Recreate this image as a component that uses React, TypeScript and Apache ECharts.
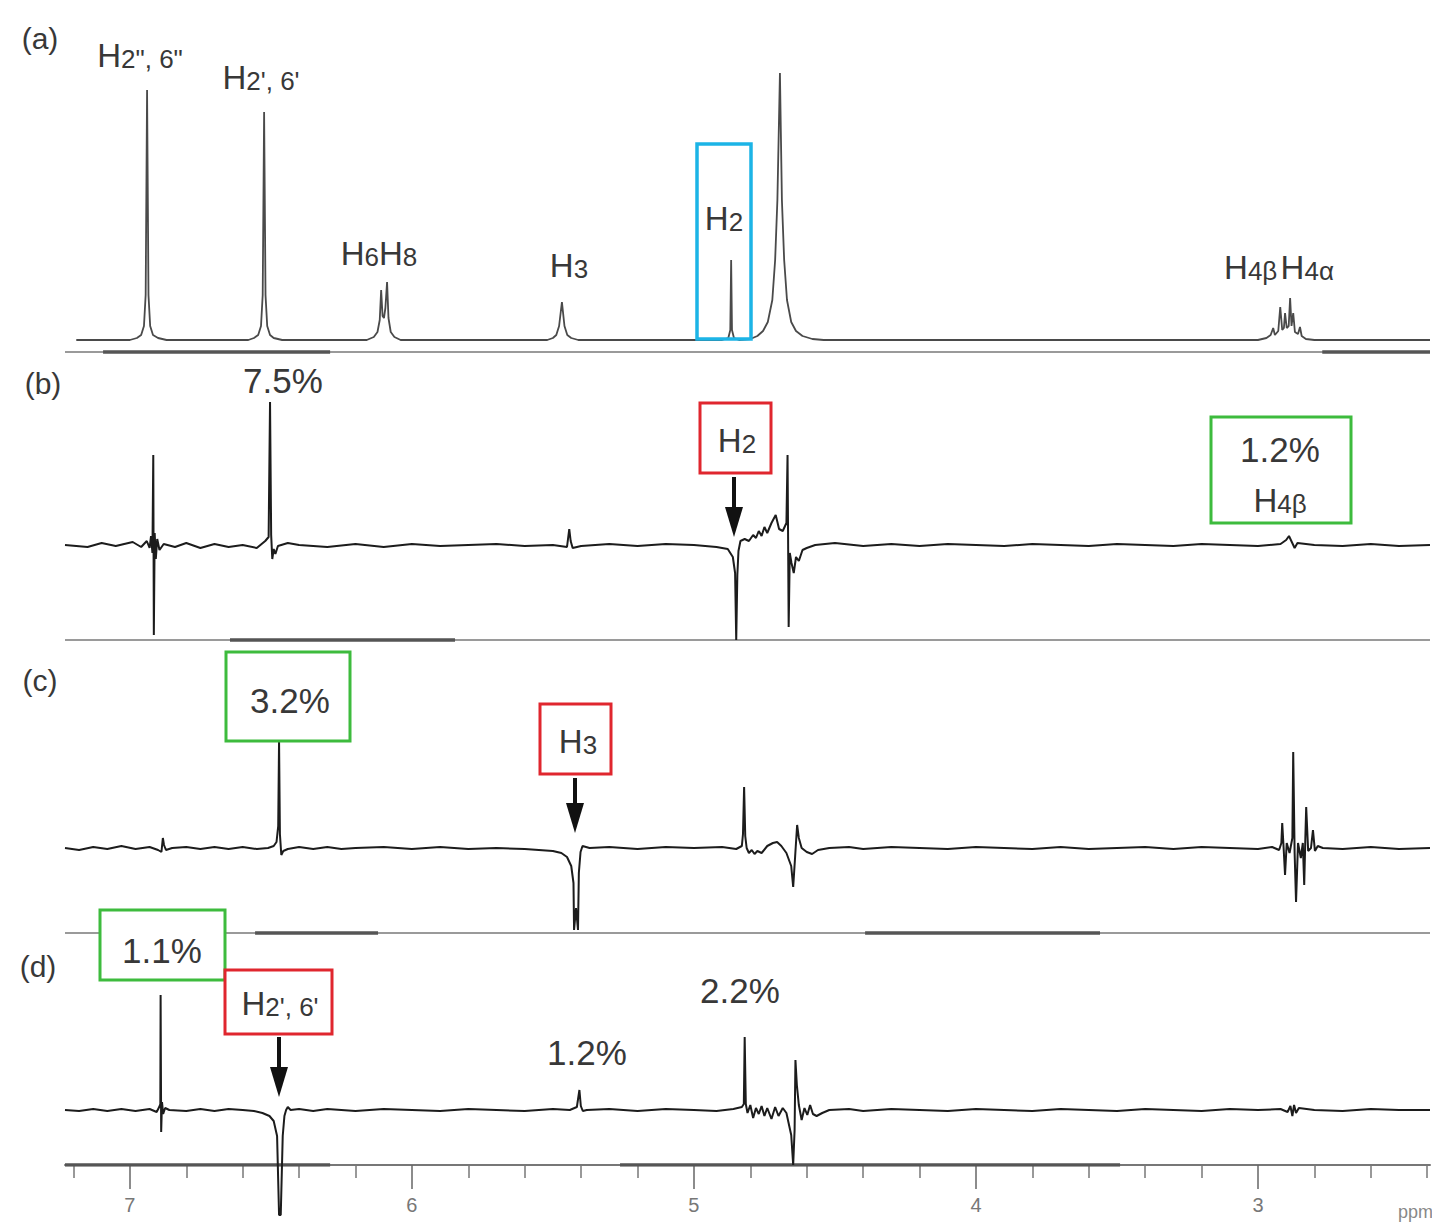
import React, { useEffect, useRef } from "react";
import * as echarts from "echarts";

// ---- data (ppm, intensity above each trace's baseline) ----
const PPM_MIN = 2.39;
const PPM_MAX = 7.23;

const specA: [number, number][] = [
  [7.19, 0], [7.0, 0], [6.975, 2], [6.96, 5], [6.95, 14], [6.944, 45], [6.939, 250], [6.934, 45], [6.928, 14], [6.918, 5], [6.9, 2], [6.87, 0],
  [6.58, 0], [6.56, 2], [6.545, 5], [6.535, 14], [6.529, 45], [6.524, 228], [6.519, 45], [6.513, 14], [6.503, 5], [6.49, 2], [6.46, 0],
  [6.16, 0], [6.135, 3], [6.122, 8], [6.114, 20], [6.109, 50], [6.104, 24], [6.099, 22], [6.094, 32], [6.088, 58], [6.083, 22], [6.075, 8], [6.062, 3], [6.04, 0],
  [5.52, 0], [5.5, 2], [5.488, 5], [5.478, 14], [5.468, 38], [5.459, 14], [5.449, 5], [5.435, 2], [5.41, 0],
  [4.9, 0], [4.878, 2], [4.871, 10], [4.868, 80], [4.865, 10], [4.858, 2], [4.84, 0],
  [4.8, 1], [4.775, 4], [4.755, 9], [4.738, 18], [4.722, 40], [4.712, 80], [4.704, 140], [4.695, 267], [4.688, 140], [4.68, 80], [4.67, 40], [4.655, 18], [4.638, 9], [4.615, 4], [4.58, 1], [4.54, 0],
  [3.0, 0], [2.97, 2], [2.955, 5], [2.946, 12], [2.94, 5], [2.928, 9], [2.921, 33], [2.914, 10], [2.908, 12], [2.904, 27], [2.898, 12], [2.891, 14], [2.886, 42], [2.881, 14], [2.875, 27], [2.869, 8], [2.858, 6], [2.851, 13], [2.845, 4], [2.83, 1], [2.8, 0], [2.39, 0],
];

const specB: [number, number][] = [
  [7.23, 0], [7.15, -2], [7.1, 2], [7.05, -1], [6.99, 3], [6.96, -2], [6.94, 4], [6.93, -3], [6.925, 9], [6.92, -8], [6.917, 90], [6.915, -90], [6.912, 12], [6.908, -14], [6.903, 6], [6.895, -5], [6.88, 1],
  [6.84, -2], [6.8, 2], [6.75, -3], [6.7, 1], [6.65, -2], [6.6, 0], [6.55, -3], [6.52, 4], [6.508, 8], [6.503, 143], [6.499, 10], [6.495, -14], [6.49, -4], [6.484, -9], [6.475, -1],
  [6.44, 2], [6.4, 0], [6.3, -2], [6.2, 1], [6.1, -2], [6.0, 1], [5.9, -1], [5.8, 0], [5.7, 1], [5.6, -1], [5.5, 0], [5.45, -2], [5.442, 16], [5.437, 4], [5.43, -3], [5.4, -1],
  [5.3, 1], [5.2, -1], [5.1, 1], [5.0, 0], [4.92, -2], [4.88, -4], [4.862, -12], [4.854, -28], [4.85, -95], [4.846, -30], [4.842, -6], [4.835, 4], [4.82, 6], [4.805, 4],
  [4.79, 10], [4.78, 7], [4.77, 14], [4.76, 9], [4.75, 18], [4.74, 12], [4.725, 22], [4.71, 30], [4.698, 16], [4.685, 14], [4.672, 22], [4.668, 90], [4.664, -82], [4.66, -8],
  [4.654, -18], [4.646, -28], [4.638, -12], [4.628, -16], [4.615, -5], [4.6, -3], [4.57, 0], [4.5, 2], [4.4, -1], [4.3, 1], [4.2, -1], [4.1, 1], [4.0, 0], [3.9, -1], [3.8, 1],
  [3.7, 0], [3.6, -1], [3.5, 1], [3.4, 0], [3.3, -1], [3.2, 1], [3.1, 0], [3.0, -1], [2.92, 1], [2.9, 5], [2.89, 9], [2.88, 3], [2.87, -3], [2.86, 2], [2.8, 0], [2.7, -1], [2.6, 1], [2.5, -1], [2.39, 0],
];

const specC: [number, number][] = [
  [7.23, 0], [7.18, -2], [7.13, 1], [7.08, -1], [7.03, 2], [6.98, -1], [6.93, 1], [6.9, -2], [6.888, -4], [6.883, 10], [6.879, 3], [6.872, -2], [6.85, 0], [6.8, 1], [6.75, -1],
  [6.7, 1], [6.65, -1], [6.6, 1], [6.55, -1], [6.51, 0], [6.49, 2], [6.48, 6], [6.474, 22], [6.471, 107], [6.468, 14], [6.463, -7], [6.456, -3], [6.44, -1], [6.4, 1], [6.35, -1],
  [6.3, 1], [6.25, -1], [6.2, 0], [6.1, 1], [6.0, -1], [5.9, 1], [5.8, -1], [5.7, 0], [5.6, -1], [5.55, -2], [5.5, -3], [5.47, -5], [5.45, -9], [5.435, -18], [5.427, -35],
  [5.425, -82], [5.418, -60], [5.411, -82], [5.408, -25], [5.402, -4], [5.395, 2], [5.37, 0], [5.3, 1], [5.2, -1], [5.1, 1], [5.0, 0], [4.9, 1], [4.85, -1], [4.83, 2],
  [4.826, 14], [4.822, 61], [4.818, 12], [4.813, 0], [4.805, -5], [4.795, -2], [4.785, -6], [4.775, -3], [4.76, -5], [4.74, 2], [4.72, 5], [4.705, 6], [4.69, 2], [4.672, -5],
  [4.655, -18], [4.648, -39], [4.641, -8], [4.634, 23], [4.628, 10], [4.618, 0], [4.6, -4], [4.581, -6], [4.56, -2], [4.52, 0], [4.45, 1], [4.4, -1], [4.3, 1], [4.2, 0],
  [4.1, -1], [4.0, 1], [3.9, 0], [3.8, -1], [3.7, 1], [3.6, -1], [3.5, 0], [3.4, 1], [3.3, -1], [3.2, 1], [3.1, 0], [3.0, -1], [2.95, 1], [2.925, -2], [2.917, 5], [2.914, 25],
  [2.909, 0], [2.904, -27], [2.898, 5], [2.888, -5], [2.878, 10], [2.875, 96], [2.87, -5], [2.865, -54], [2.858, 5], [2.848, -10], [2.841, 5], [2.836, -37], [2.832, 10],
  [2.829, 41], [2.822, -3], [2.812, 0], [2.805, 18], [2.798, -3], [2.788, 2], [2.77, 0], [2.7, -1], [2.6, 1], [2.5, -1], [2.39, 0],
];

const specD: [number, number][] = [
  [7.23, 0], [7.18, -1], [7.13, 1], [7.08, -1], [7.03, 1], [6.98, -1], [6.93, 1], [6.905, -2], [6.896, 3], [6.892, 6], [6.891, 115], [6.889, -22], [6.886, 8], [6.882, -4],
  [6.875, 2], [6.86, 0], [6.8, -1], [6.75, 1], [6.7, -1], [6.65, 1], [6.6, 0], [6.56, -1], [6.53, -3], [6.505, -6], [6.49, -11], [6.478, -26], [6.471, -105], [6.465, -105],
  [6.458, -26], [6.452, -6], [6.446, 0], [6.44, 3], [6.43, 0], [6.4, 1], [6.35, -1], [6.3, 1], [6.2, -1], [6.1, 1], [6.0, 0], [5.9, -1], [5.8, 1], [5.7, 0], [5.6, -1],
  [5.5, 1], [5.44, 0], [5.415, 3], [5.406, 20], [5.401, 4], [5.394, -1], [5.38, 0], [5.3, 1], [5.2, -1], [5.1, 1], [5.0, 0], [4.92, -1], [4.86, 1], [4.83, 3], [4.823, 6],
  [4.82, 73], [4.816, 6], [4.81, -3], [4.8, 5], [4.79, -8], [4.78, 2], [4.77, -4], [4.76, 4], [4.75, -6], [4.74, 2], [4.725, -9], [4.712, 3], [4.7, -6], [4.685, 2],
  [4.672, -3], [4.655, -25], [4.648, -55], [4.643, -20], [4.64, 50], [4.635, 25], [4.628, 5], [4.618, -10], [4.608, 2], [4.598, -5], [4.588, 5], [4.578, -4], [4.565, -6],
  [4.545, -3], [4.52, 0], [4.45, 1], [4.4, -1], [4.3, 1], [4.2, 0], [4.1, -1], [4.0, 1], [3.9, 0], [3.8, -1], [3.7, 1], [3.6, 0], [3.5, -1], [3.4, 1], [3.3, 0], [3.2, -1],
  [3.1, 1], [3.0, 0], [2.92, 1], [2.895, -2], [2.885, 4], [2.878, -6], [2.872, 5], [2.865, -3], [2.855, 2], [2.8, 0], [2.7, -1], [2.6, 1], [2.5, 0], [2.39, 0],
];

// reference lines under each trace (intensity level) and thicker integral-like stretches
const refLevels = [-12, -95, -85, -55];
const integralsA: [number, number][] = [[7.095, 6.29], [2.772, 2.39]];
const integralsB: [number, number][] = [[6.645, 5.847]];
const integralsC: [number, number][] = [[6.556, 6.12], [4.393, 3.56]];
const integralsD: [number, number][] = [[7.23, 6.29], [5.262, 3.489]];

const majorTicks = [3, 4, 5, 6, 7];
const minorTicks = [2.4, 2.6, 2.8, 3.2, 3.4, 3.6, 3.8, 4.2, 4.4, 4.6, 4.8, 5.2, 5.4, 5.6, 5.8, 6.2, 6.4, 6.6, 6.8, 7.2];

// ---- layout ----
const panels = [
  { top: 60, height: 300, min: -20, max: 280 },
  { top: 390, height: 260, min: -105, max: 155 },
  { top: 735, height: 205, min: -92, max: 113 },
  { top: 985, height: 180, min: -55, max: 125 },
];

const FONT = '"Liberation Sans", Arial, Helvetica, sans-serif';
const TXT = "#383838";
const RED = "#e0262e";
const GREEN = "#3dbb3d";
const CYAN = "#1cb4e6";

const richStyle = {
  h: { fontSize: 33, fontFamily: FONT, fill: TXT, verticalAlign: "bottom" },
  s: { fontSize: 26, fontFamily: FONT, fill: TXT, verticalAlign: "bottom" },
};

function label(x: number, y: number, text: string, size = 35): any {
  return {
    type: "text", x, y, z: 20,
    style: { text, font: `${size}px ${FONT}`, fill: TXT, align: "center", verticalAlign: "middle" },
  };
}
function hLabel(x: number, y: number, text: string): any {
  return {
    type: "text", x, y, z: 20,
    style: { text, rich: richStyle, fill: TXT, align: "center", verticalAlign: "middle" },
  };
}
function box(x: number, y: number, w: number, h: number, color: string): any {
  return {
    type: "rect", z: 15,
    shape: { x, y, width: w, height: h },
    style: { fill: "#ffffff", stroke: color, lineWidth: 3 },
  };
}
function arrow(x: number, y1: number, y2: number): any[] {
  return [
    { type: "line", z: 20, shape: { x1: x, y1, x2: x, y2: y2 - 26 }, style: { stroke: "#111", lineWidth: 4 } },
    { type: "polygon", z: 20, shape: { points: [[x - 9, y2 - 30], [x + 9, y2 - 30], [x, y2]] }, style: { fill: "#111" } },
  ];
}

export default function App() {
  const ref = useRef<HTMLDivElement>(null);

  useEffect(() => {
    if (!ref.current) return;
    const chart = echarts.init(ref.current, undefined, { renderer: "svg" });

    const specs = [specA, specB, specC, specD];
    const integrals = [integralsA, integralsB, integralsC, integralsD];
    const series: any[] = [];

    specs.forEach((data, i) => {
      if (i < 3) {
        series.push({
          type: "line", xAxisIndex: i, yAxisIndex: i, symbol: "none", silent: true, z: 1,
          data: [[PPM_MAX, refLevels[i]], [PPM_MIN, refLevels[i]]],
          lineStyle: { color: "#9a9a9a", width: 2 },
        });
      }
      integrals[i].forEach(([a, b]) => {
        series.push({
          type: "line", xAxisIndex: i, yAxisIndex: i, symbol: "none", silent: true, z: 2,
          data: [[a, refLevels[i]], [b, refLevels[i]]],
          lineStyle: { color: "#555", width: 3.5 },
        });
      });
      series.push({
        type: "line", xAxisIndex: i, yAxisIndex: i, symbol: "none", showSymbol: false, clip: false, z: 5,
        data,
        lineStyle: { color: i === 0 ? "#4a4a4a" : "#1c1c1c", width: i === 0 ? 1.8 : 2 },
      });
    });

    const xAxisBase = { type: "value", min: PPM_MIN, max: PPM_MAX, inverse: true, splitLine: { show: false } };
    const xAxes: any[] = panels.map((_, i) => ({
      ...xAxisBase,
      gridIndex: i,
      show: i === 3,
      position: "bottom",
      axisLine: { show: i === 3, onZero: false, lineStyle: { color: "#777", width: 2 } },
      axisTick: { show: i === 3, customValues: majorTicks, length: 24, lineStyle: { color: "#666", width: 1.5 } },
      axisLabel: { show: i === 3, customValues: majorTicks, color: "#777", fontSize: 20, fontFamily: FONT, margin: 30 },
    }));
    xAxes.push({
      ...xAxisBase,
      gridIndex: 3,
      position: "bottom",
      axisLine: { show: false, onZero: false },
      axisTick: { show: true, customValues: minorTicks, length: 13, lineStyle: { color: "#777", width: 1.5 } },
      axisLabel: { show: false },
    });

    const graphic: any[] = [
      label(40, 38, "(a)", 30), label(43, 383, "(b)", 30), label(40, 680, "(c)", 30), label(38, 966, "(d)", 30),
      hLabel(140, 55, '{h|H}{s|2", 6"}'),
      hLabel(261, 77, "{h|H}{s|2', 6'}"),
      hLabel(379, 253, "{h|H}{s|6}{h|H}{s|8}"),
      hLabel(569, 265, "{h|H}{s|3}"),
      hLabel(1279, 267, "{h|H}{s|4β} {h|H}{s|4α}"),
      { type: "rect", z: 15, shape: { x: 697, y: 144, width: 54, height: 195 }, style: { fill: "none", stroke: CYAN, lineWidth: 3.5 } },
      hLabel(724, 218, "{h|H}{s|2}"),
      label(283, 380, "7.5%"),
      box(700, 403, 71, 70, RED), hLabel(737, 440, "{h|H}{s|2}"),
      ...arrow(734, 477, 537),
      box(1211, 417, 140, 106, GREEN), label(1280, 449, "1.2%"), hLabel(1280, 500, "{h|H}{s|4β}"),
      box(226, 652, 124, 89, GREEN), label(290, 700, "3.2%"),
      box(540, 704, 71, 70, RED), hLabel(578, 741, "{h|H}{s|3}"),
      ...arrow(575, 778, 833),
      box(100, 910, 125, 70, GREEN), label(162, 950, "1.1%"),
      box(225, 970, 107, 64, RED), hLabel(280, 1003, "{h|H}{s|2', 6'}"),
      ...arrow(279, 1037, 1097),
      label(587, 1052, "1.2%"),
      label(740, 990, "2.2%"),
      { type: "text", x: 1398, y: 1212, z: 20, style: { text: "ppm", font: `18px ${FONT}`, fill: "#888", align: "left", verticalAlign: "middle" } },
    ];

    chart.setOption({
      animation: false,
      backgroundColor: "#ffffff",
      grid: panels.map((p) => ({ left: 65, right: 2, top: p.top, height: p.height, containLabel: false })),
      xAxis: xAxes,
      yAxis: panels.map((p, i) => ({ type: "value", gridIndex: i, min: p.min, max: p.max, show: false, splitLine: { show: false } })),
      series,
      graphic,
    });

    return () => chart.dispose();
  }, []);

  return (
    <div
      ref={ref}
      style={{ position: "absolute", left: 0, top: 0, width: 1432, height: 1222, background: "#fff" }}
    />
  );
}
